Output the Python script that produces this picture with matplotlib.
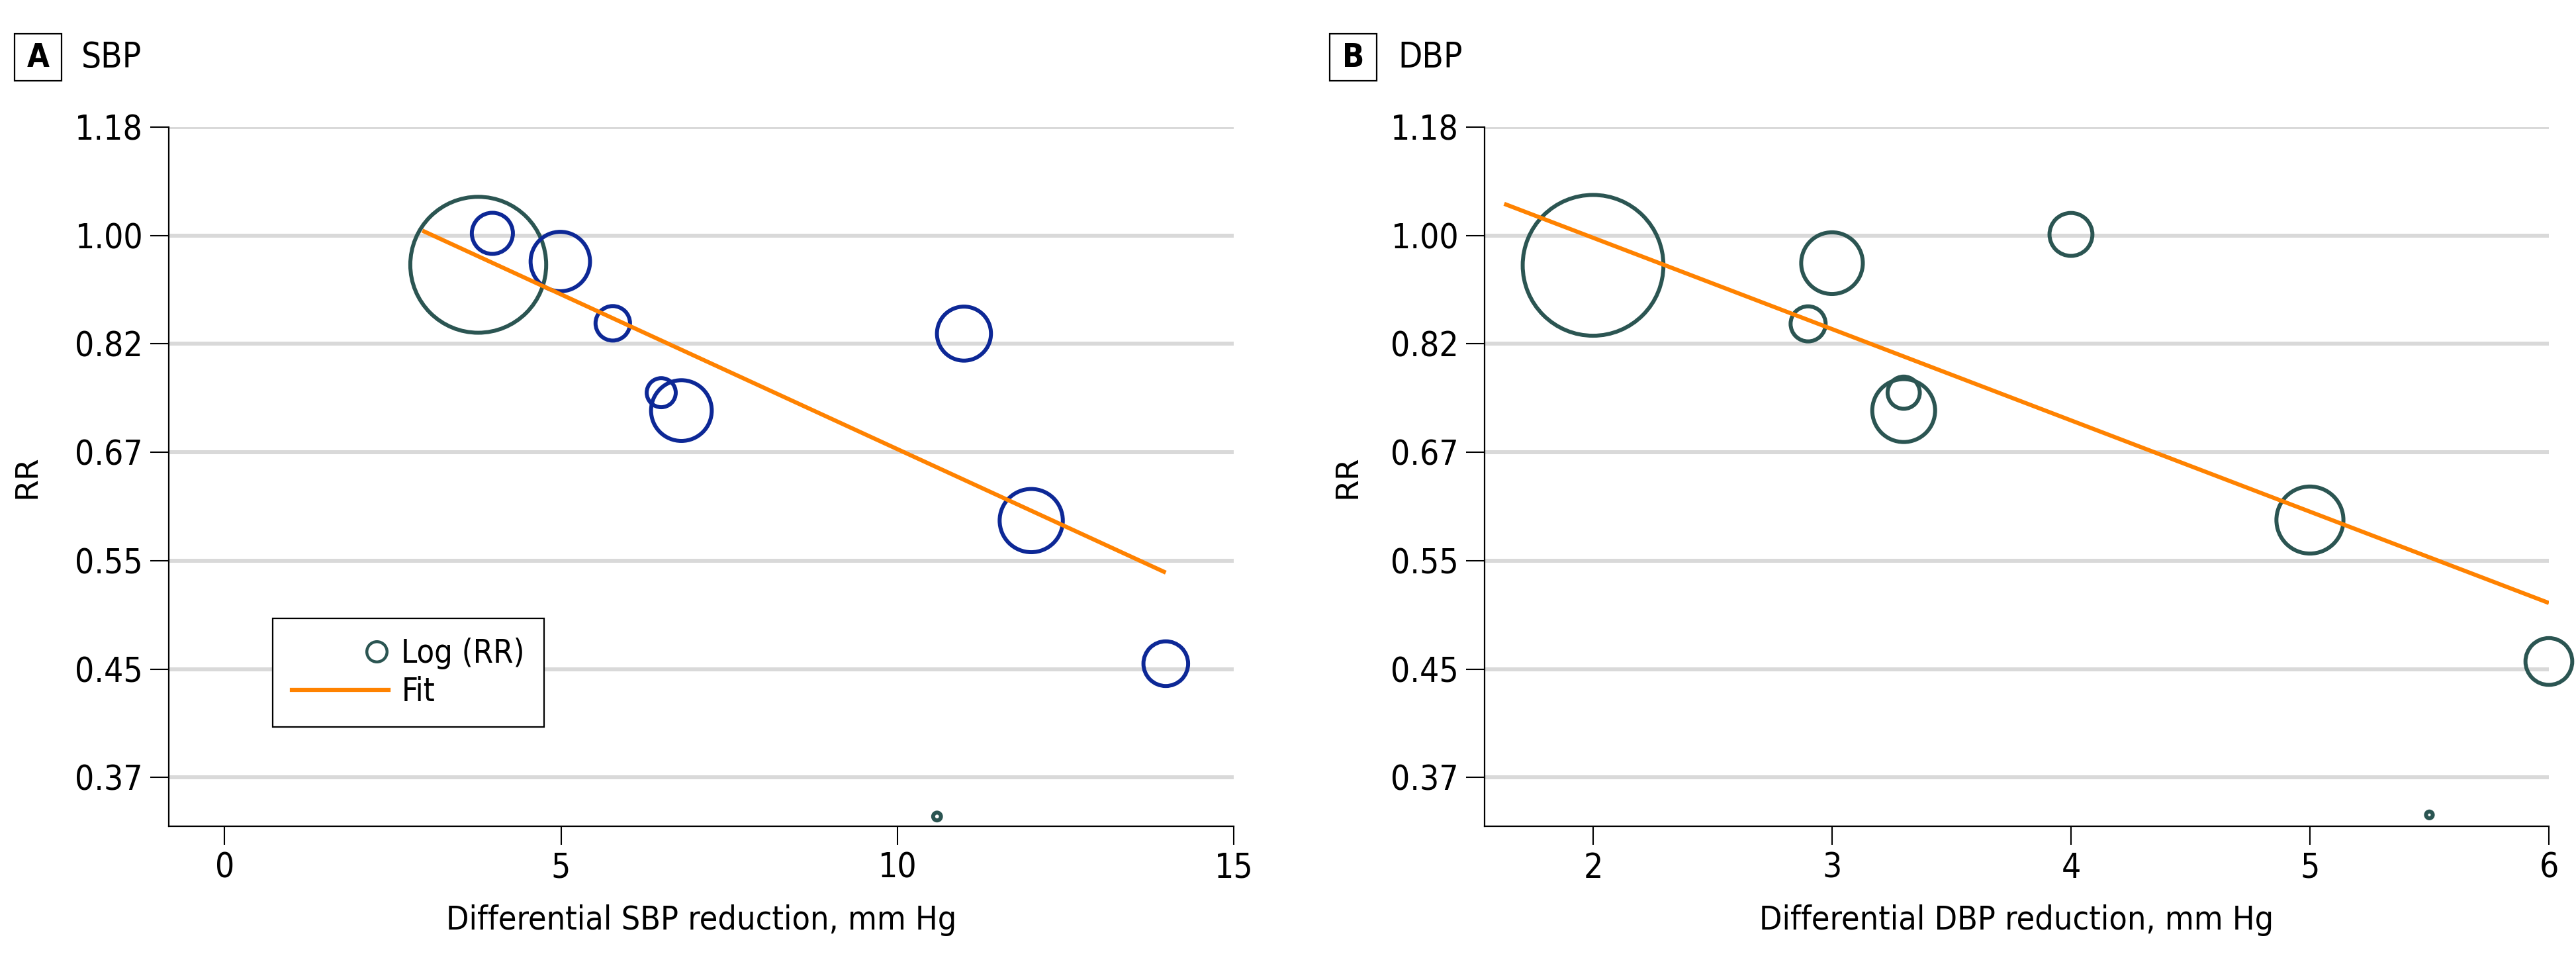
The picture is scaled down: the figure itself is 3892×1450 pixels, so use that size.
import numpy as np
import matplotlib
matplotlib.use("Agg")
import matplotlib.pyplot as plt
from matplotlib.lines import Line2D
from matplotlib.patches import Rectangle
from matplotlib.legend_handler import HandlerLine2DCompound

plt.rcParams["font.family"] = ["DejaVu Sans"]
plt.rcParams["font.stretch"] = "condensed"

# 데이터 (log RR 단위)
sbp_x = [3.77, 3.98, 4.99, 5.77, 6.49, 6.79, 10.99, 11.99, 13.99, 10.59]
sbp_logrr = [-0.054, 0.004, -0.048, -0.162, -0.290, -0.323, -0.181, -0.526, -0.790, -1.072]
sbp_weight = [48.1, 4.4, 9.2, 3.1, 2.2, 9.6, 7.6, 10.4, 5.2, 0.16]
sbp_group = ["g", "b", "b", "b", "b", "b", "b", "b", "b", "g"]
sbp_fit_x = [2.94, 13.99]
sbp_fit_y = [0.009, -0.622]

dbp_x = [2.0, 3.0, 4.0, 2.9, 3.3, 3.3, 5.0, 6.0, 5.5]
dbp_logrr = [-0.055, -0.051, 0.002, -0.163, -0.290, -0.323, -0.525, -0.786, -1.069]
dbp_weight = [51.6, 9.9, 4.8, 3.2, 2.7, 10.3, 11.7, 5.7, 0.12]
dbp_group = ["g"] * 9
dbp_fit_x = [1.628, 6.0]
dbp_fit_y = [0.0585, -0.678]

y_ticks = [-1.0, -0.8, -0.6, -0.4, -0.2, 0.0, 0.2]
y_labels = ["0.37", "0.45", "0.55", "0.67", "0.82", "1.00", "1.18"]

GREEN = "#2b5552"
BLUE = "#0d2896"
ORANGE = "#ff8200"
GRID = "#d9d9d9"
FS = 37
DPI = 100
W, H = 3892, 1450


class _RightMarker(HandlerLine2DCompound):
    """범례 마커를 핸들 오른쪽 끝에."""
    def get_xdata(self, legend, xdescent, ydescent, width, height, fontsize):
        xd, _ = super().get_xdata(legend, xdescent, ydescent, width, height, fontsize)
        return xd, np.array([-xdescent + width - 0.37 * fontsize])


def _sizes(weights):
    r_px = 14.8 * np.sqrt(np.asarray(weights))
    d_pt = 2 * r_px * 72 / DPI
    return d_pt ** 2


def _panel(ax, x, y, w, grp, fx, fy, xlim, xticks, xlabel):
    cols = [GREEN if g == "g" else BLUE for g in grp]
    ax.scatter(x, y, s=_sizes(w), facecolors="none", edgecolors=cols,
               linewidths=4.3, zorder=3, clip_on=False)
    ax.plot(fx, fy, color=ORANGE, lw=4.5, zorder=4, solid_capstyle="butt")
    ax.set_xlim(*xlim)
    ax.set_ylim(-1.09, 0.2)
    ax.set_yticks(y_ticks)
    ax.set_yticklabels(y_labels)
    ax.set_xticks(xticks)
    ax.grid(axis="y", color=GRID, lw=4.3, zorder=0)
    ax.set_axisbelow(True)
    for s in ["top", "right"]:
        ax.spines[s].set_visible(False)
    for s in ["left", "bottom"]:
        ax.spines[s].set_linewidth(1.6)
    ax.tick_params(axis="both", length=20, width=1.5, labelsize=FS, pad=8)
    ax.set_xlabel(xlabel, fontsize=FS - 1)
    ax.set_ylabel("RR", fontsize=34, fontstretch="normal")
    ax.xaxis.set_label_coords(0.5, -0.112)


fig = plt.figure(figsize=(W / DPI, H / DPI), dpi=DPI)
bottom, top = 1 - 1248 / H, 1 - 192 / H
ax1 = fig.add_axes([255 / W, bottom, (1864 - 255) / W, top - bottom])
ax2 = fig.add_axes([2243 / W, bottom, (3851 - 2243) / W, top - bottom])

_panel(ax1, sbp_x, sbp_logrr, sbp_weight, sbp_group, sbp_fit_x, sbp_fit_y,
       (-0.83, 15), [0, 5, 10, 15], "Differential SBP reduction, mm Hg")
_panel(ax2, dbp_x, dbp_logrr, dbp_weight, dbp_group, dbp_fit_x, dbp_fit_y,
       (1.546, 6), [2, 3, 4, 5, 6], "Differential DBP reduction, mm Hg")
ax1.yaxis.set_label_coords(-0.119, 0.5)
ax2.yaxis.set_label_coords(-0.115, 0.5)

# 범례
h_pt = Line2D([], [], ls="none", marker="o", markersize=22,
              markerfacecolor="none", markeredgecolor=GREEN,
              markeredgewidth=3.2)
h_fit = Line2D([], [], color=ORANGE, lw=4.5)
leg = ax1.legend([h_pt, h_fit], ["Log (RR)", "Fit"], loc="lower left",
                 bbox_to_anchor=(0.0976, 0.142), borderaxespad=0,
                 fontsize=35, numpoints=1, handlelength=3.0, handletextpad=0.4,
                 fancybox=False, edgecolor="black", framealpha=1,
                 borderpad=0.6, labelspacing=0.2,
                 handler_map={h_pt: _RightMarker()})
leg.get_frame().set_linewidth(1.6)

# 패널 제목
for bx, lab, tx, title in [(22, "A", 123, "SBP"), (2009, "B", 2112, "DBP")]:
    fig.patches.append(Rectangle((bx / W, 1 - 122 / H), 71 / W, 71 / H,
                                 transform=fig.transFigure, fill=False,
                                 ec="black", lw=1.6))
    fig.text((bx + 35.5) / W, 1 - 87 / H, lab, ha="center", va="center",
             fontsize=FS - 2, fontweight="bold")
    fig.text(tx / W, 1 - 87 / H, title, ha="left", va="center", fontsize=FS + 1)

fig.savefig("out.png", dpi=DPI, facecolor="white")
